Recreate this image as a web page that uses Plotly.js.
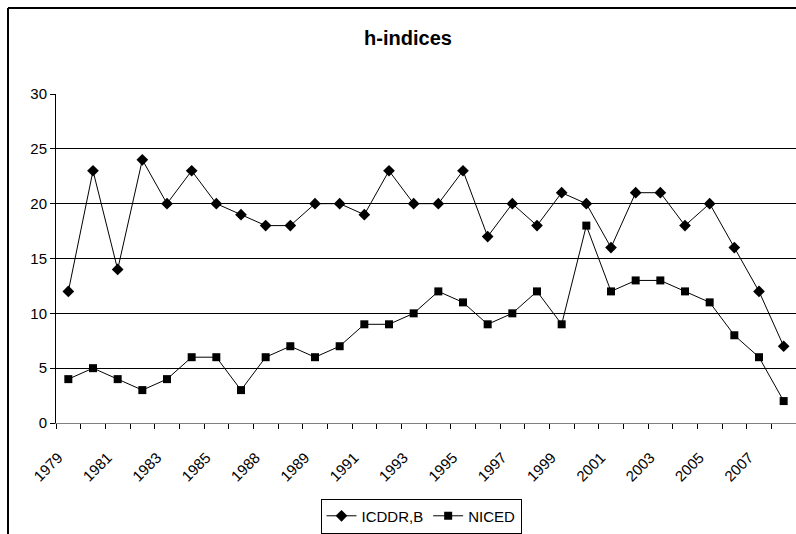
<!DOCTYPE html>
<html>
<head>
<meta charset="utf-8">
<script src="https://cdn.plot.ly/plotly-3.0.1.min.js"></script>
<style>
html,body{margin:0;padding:0;background:#fff;overflow:hidden;}
#chart{width:796px;height:534px;}
</style>
</head>
<body>
<div id="chart"></div>
<script>
// Category labels (only every other one is shown on the axis)
const years = ["1979","1980","1981","1982","1983","1984","1985","1987","1988","1988",
               "1989","1990","1991","1992","1993","1994","1995","1996","1997","1998",
               "1999","2000","2001","2002","2003","2004","2005","2006","2007","2008"];
const icddrb = [12,23,14,24,20,23,20,19,18,18,20,20,19,23,20,20,23,17,20,18,21,20,16,21,21,18,20,16,12,7];
const niced  = [4,5,4,3,4,6,6,3,6,7,6,7,9,9,10,12,11,9,10,12,9,18,12,13,13,12,11,8,6,2];

const idx = years.map((_, i) => i);
const shownVals = idx.filter(i => i % 2 === 0);
const shownText = shownVals.map(i => years[i]);
const boundaries = idx.map(i => i - 0.5).concat([years.length - 0.5]);

const font = "Liberation Sans, Arial, sans-serif";

const traces = [
  {
    x: idx, y: icddrb, name: "ICDDR,B", type: "scatter", mode: "lines+markers",
    xaxis: "x", yaxis: "y",
    line: {color: "#000", width: 1},
    marker: {symbol: "diamond", size: 9, color: "#000"}
  },
  {
    x: idx, y: niced, name: "NICED", type: "scatter", mode: "lines+markers",
    xaxis: "x2", yaxis: "y",
    line: {color: "#000", width: 1},
    marker: {symbol: "square", size: 8, color: "#000"}
  }
];

const L = 56, R = 0, T = 94, B = 109, W = 796, H = 534;
const pw = W - L - R, ph = H - T - B;
const px = v => (v - L) / pw;
const py = v => (H - B - v) / ph;

const layout = {
  width: W, height: H,
  margin: {l: L, r: R, t: T, b: B},
  paper_bgcolor: "#fff", plot_bgcolor: "#fff",
  font: {family: font, color: "#000", size: 15},
  title: {
    text: "<b>h-indices</b>",
    font: {family: font, size: 20, color: "#000"},
    xref: "paper", x: px(408), xanchor: "center",
    yref: "container", y: 1 - 38 / H, yanchor: "middle"
  },
  showlegend: true,
  legend: {
    orientation: "h",
    x: px(421), xanchor: "center",
    y: py(501), yanchor: "top",
    bordercolor: "#000", borderwidth: 1,
    bgcolor: "#fff",
    font: {family: font, size: 15, color: "#000"},
    itemwidth: 30
  },
  xaxis: {
    range: [-0.5, 29.5],
    tickmode: "array", tickvals: boundaries, ticktext: boundaries.map(() => ""),
    ticks: "outside", ticklen: 5, tickcolor: "#000", tickwidth: 1,
    showticklabels: false,
    showgrid: false, zeroline: false,
    showline: true, linecolor: "#808080", linewidth: 1,
    fixedrange: true
  },
  xaxis2: {
    overlaying: "x", matches: "x", side: "bottom",
    range: [-0.5, 29.5],
    tickmode: "array", tickvals: shownVals, ticktext: shownText,
    tickangle: -45,
    ticks: "outside", ticklen: 19, tickcolor: "rgba(0,0,0,0)",
    ticklabelshift: -10,
    tickfont: {family: font, size: 15, color: "#000"},
    showgrid: false, zeroline: false, showline: false,
    fixedrange: true
  },
  yaxis: {
    range: [0, 30], dtick: 5, tick0: 0,
    ticks: "outside", ticklen: 5, tickcolor: "#000", tickwidth: 1,
    tickfont: {family: font, size: 15, color: "#000"},
    showgrid: true, gridcolor: "#000", gridwidth: 1,
    zeroline: false,
    showline: true, linecolor: "#000", linewidth: 1,
    fixedrange: true
  },
  shapes: [
    {type: "line", xref: "paper", yref: "paper", x0: px(8), x1: px(8), y0: py(7.5), y1: py(540),
     line: {color: "#000", width: 2}},
    {type: "line", xref: "paper", yref: "paper", x0: px(8), x1: px(800), y0: py(7.5), y1: py(7.5),
     line: {color: "#000", width: 2}}
  ]
};

Plotly.newPlot("chart", traces, layout, {displayModeBar: false, staticPlot: true});
</script>
</body>
</html>
